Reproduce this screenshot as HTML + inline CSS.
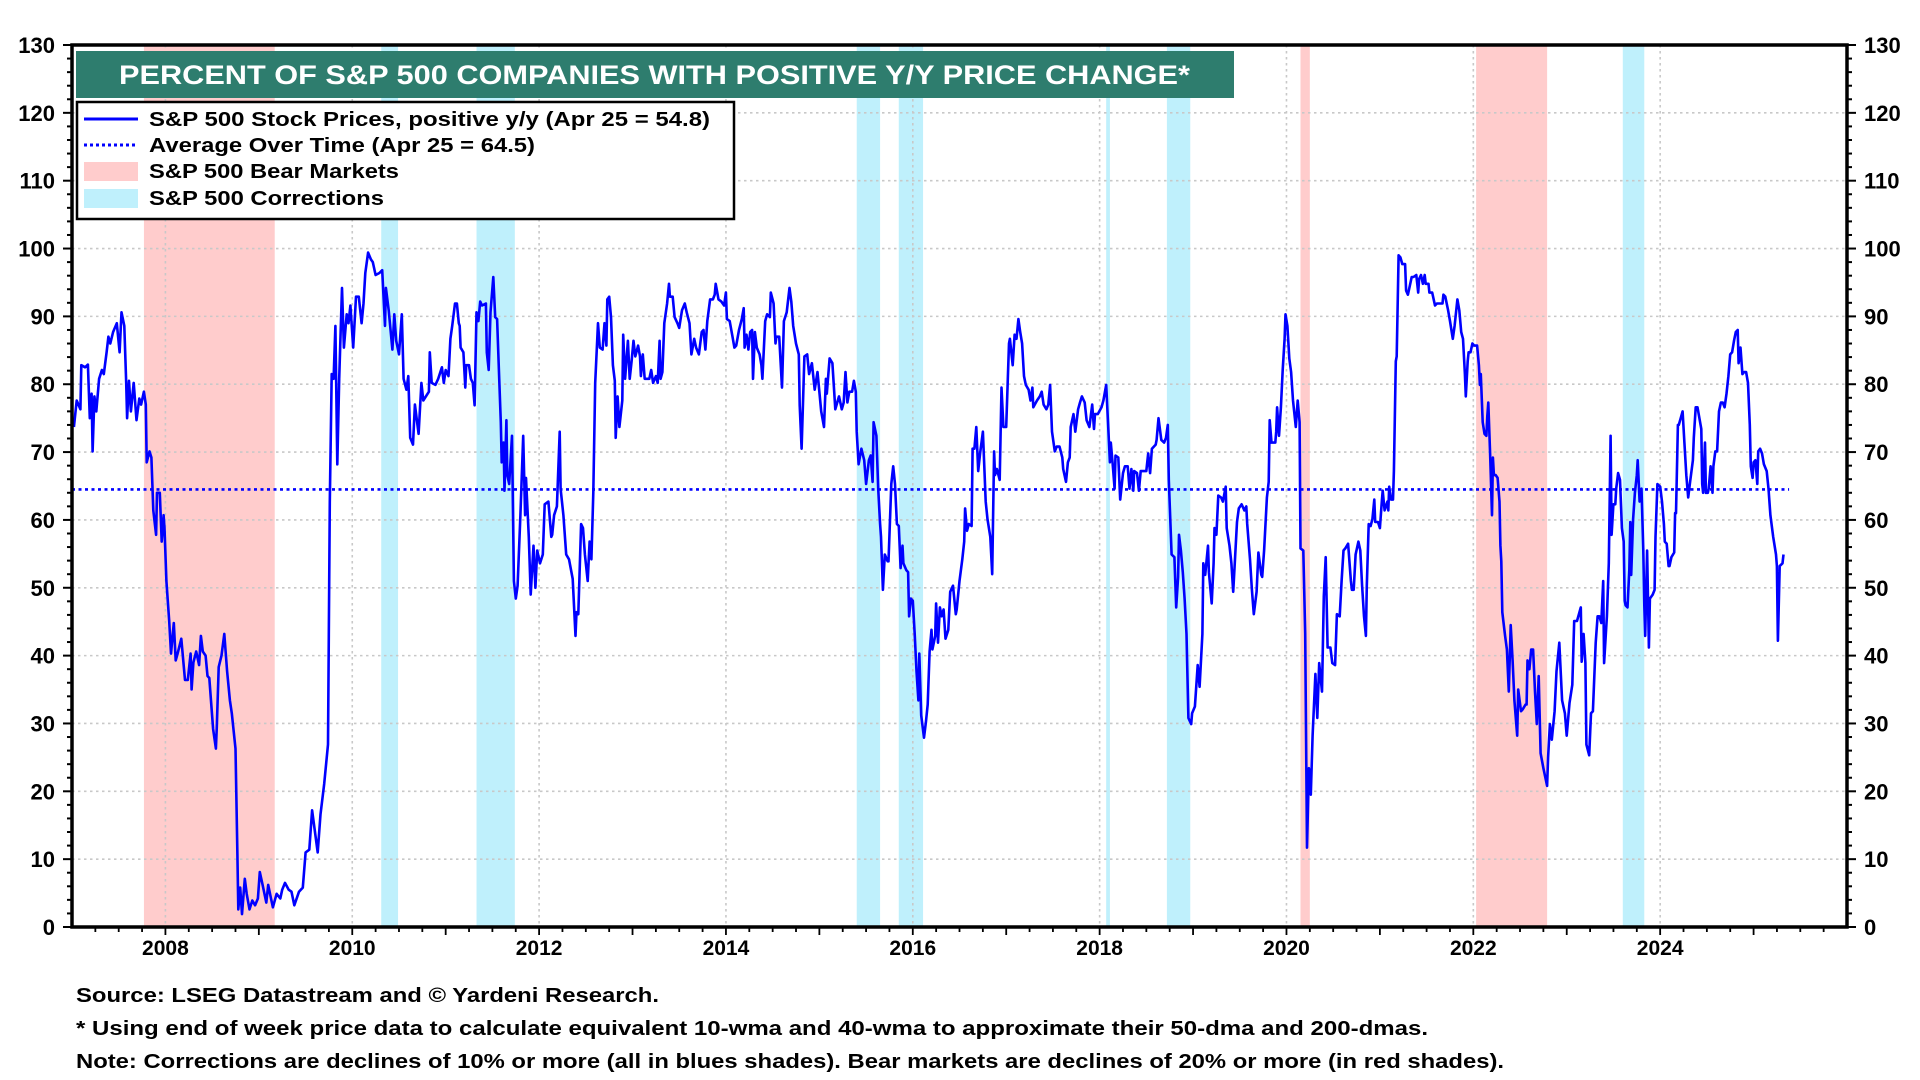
<!DOCTYPE html>
<html><head><meta charset="utf-8"><style>
html,body{margin:0;padding:0;background:#fff;}
svg{display:block;font-family:"Liberation Sans",Arial,sans-serif;font-weight:bold;}
</style></head><body>
<svg id="chart" width="1920" height="1080" viewBox="0 0 1920 1080" xmlns="http://www.w3.org/2000/svg">
<g id="bands"></g>
<g id="grid"></g>
<g id="avg"></g>
<g id="series"></g>
<rect x="72" y="45" width="1775" height="882" fill="none" stroke="#000" stroke-width="3.5"/>
<g id="axes"></g>
<rect x="76" y="51" width="1158" height="47" fill="#2e7d6e"/>
<text x="119" y="84" fill="#fff" font-size="27" textLength="1071" lengthAdjust="spacingAndGlyphs">PERCENT OF S&amp;P 500 COMPANIES WITH POSITIVE Y/Y PRICE CHANGE*</text>
<g>
<rect x="77" y="102" width="657" height="117" fill="#fff" stroke="#000" stroke-width="2.5"/>
<line x1="84" y1="119" x2="138" y2="119" stroke="#0000ff" stroke-width="3"/>
<text x="149" y="126" font-size="20" textLength="561" lengthAdjust="spacingAndGlyphs">S&amp;P 500 Stock Prices, positive y/y (Apr 25 = 54.8)</text>
<line x1="84" y1="145" x2="138" y2="145" stroke="#0000ff" stroke-width="3" stroke-dasharray="3,3"/>
<text x="149" y="152" font-size="20" textLength="386" lengthAdjust="spacingAndGlyphs">Average Over Time (Apr 25 = 64.5)</text>
<rect x="84" y="162" width="54" height="19" fill="#ffcccc"/>
<text x="149" y="178" font-size="20" textLength="250" lengthAdjust="spacingAndGlyphs">S&amp;P 500 Bear Markets</text>
<rect x="84" y="189" width="54" height="19" fill="#bff0fc"/>
<text x="149" y="205" font-size="20" textLength="235" lengthAdjust="spacingAndGlyphs">S&amp;P 500 Corrections</text>
</g>
<text x="76" y="1002" font-size="20" textLength="583" lengthAdjust="spacingAndGlyphs">Source: LSEG Datastream and © Yardeni Research.</text>
<text x="76" y="1035" font-size="20" textLength="1352" lengthAdjust="spacingAndGlyphs">* Using end of week price data to calculate equivalent 10-wma and 40-wma to approximate their 50-dma and 200-dmas.</text>
<text x="76" y="1068" font-size="20" textLength="1428" lengthAdjust="spacingAndGlyphs">Note: Corrections are declines of 10% or more (all in blues shades). Bear markets are declines of 20% or more (in red shades).</text>
</svg>
<script>
const dates = [2007.02,2007.05,2007.09,2007.10,2007.14,2007.17,2007.19,2007.21,2007.22,2007.24,2007.26,2007.29,2007.32,2007.34,2007.37,2007.39,2007.41,2007.44,2007.48,2007.51,2007.53,2007.56,2007.58,2007.59,2007.61,2007.63,2007.66,2007.69,2007.72,2007.74,2007.77,2007.79,2007.80,2007.83,2007.85,2007.87,2007.90,2007.91,2007.94,2007.96,2007.98,2007.99,2008.01,2008.04,2008.06,2008.09,2008.11,2008.13,2008.17,2008.21,2008.24,2008.27,2008.28,2008.30,2008.33,2008.36,2008.38,2008.40,2008.43,2008.45,2008.47,2008.51,2008.54,2008.55,2008.57,2008.60,2008.63,2008.66,2008.69,2008.71,2008.75,2008.77,2008.78,2008.80,2008.82,2008.85,2008.87,2008.90,2008.93,2008.96,2008.99,2009.01,2009.04,2009.08,2009.10,2009.13,2009.15,2009.19,2009.23,2009.25,2009.28,2009.32,2009.35,2009.38,2009.43,2009.47,2009.50,2009.54,2009.57,2009.63,2009.66,2009.70,2009.74,2009.76,2009.78,2009.80,2009.82,2009.84,2009.86,2009.89,2009.91,2009.94,2009.96,2009.98,2010.01,2010.04,2010.07,2010.10,2010.12,2010.14,2010.17,2010.20,2010.22,2010.25,2010.29,2010.32,2010.35,2010.36,2010.39,2010.43,2010.45,2010.47,2010.50,2010.53,2010.55,2010.58,2010.60,2010.62,2010.65,2010.67,2010.71,2010.74,2010.76,2010.82,2010.83,2010.85,2010.89,2010.92,2010.96,2010.98,2011.00,2011.03,2011.05,2011.07,2011.10,2011.12,2011.14,2011.15,2011.16,2011.19,2011.21,2011.22,2011.25,2011.27,2011.29,2011.31,2011.33,2011.35,2011.37,2011.39,2011.43,2011.44,2011.46,2011.48,2011.51,2011.53,2011.55,2011.57,2011.59,2011.60,2011.62,2011.63,2011.65,2011.66,2011.68,2011.71,2011.73,2011.75,2011.77,2011.80,2011.83,2011.85,2011.86,2011.89,2011.91,2011.94,2011.96,2011.98,2012.01,2012.04,2012.06,2012.10,2012.13,2012.14,2012.16,2012.19,2012.22,2012.23,2012.26,2012.29,2012.32,2012.36,2012.39,2012.40,2012.42,2012.45,2012.47,2012.49,2012.52,2012.54,2012.56,2012.58,2012.60,2012.63,2012.65,2012.68,2012.70,2012.72,2012.73,2012.75,2012.77,2012.79,2012.81,2012.82,2012.84,2012.86,2012.89,2012.90,2012.92,2012.95,2012.97,2012.99,2013.01,2013.03,2013.06,2013.08,2013.09,2013.11,2013.13,2013.15,2013.18,2013.20,2013.22,2013.25,2013.27,2013.29,2013.30,2013.32,2013.34,2013.37,2013.39,2013.40,2013.43,2013.45,2013.48,2013.50,2013.53,2013.56,2013.58,2013.61,2013.63,2013.66,2013.68,2013.71,2013.74,2013.76,2013.78,2013.80,2013.83,2013.86,2013.88,2013.89,2013.92,2013.95,2013.98,2014.00,2014.01,2014.04,2014.07,2014.09,2014.11,2014.14,2014.17,2014.19,2014.20,2014.22,2014.24,2014.26,2014.28,2014.29,2014.31,2014.33,2014.36,2014.38,2014.39,2014.42,2014.44,2014.47,2014.48,2014.51,2014.53,2014.54,2014.57,2014.60,2014.62,2014.65,2014.68,2014.70,2014.72,2014.75,2014.78,2014.79,2014.81,2014.84,2014.87,2014.89,2014.92,2014.95,2014.98,2015.02,2015.05,2015.07,2015.08,2015.11,2015.14,2015.17,2015.21,2015.24,2015.26,2015.28,2015.30,2015.32,2015.35,2015.37,2015.39,2015.40,2015.42,2015.45,2015.48,2015.50,2015.53,2015.55,2015.57,2015.58,2015.61,2015.63,2015.65,2015.66,2015.68,2015.70,2015.73,2015.74,2015.77,2015.79,2015.81,2015.83,2015.85,2015.87,2015.89,2015.90,2015.93,2015.95,2015.96,2015.98,2016.00,2016.02,2016.04,2016.06,2016.07,2016.09,2016.12,2016.14,2016.16,2016.18,2016.20,2016.21,2016.24,2016.25,2016.27,2016.29,2016.31,2016.33,2016.35,2016.38,2016.40,2016.43,2016.46,2016.47,2016.50,2016.53,2016.55,2016.56,2016.58,2016.60,2016.63,2016.64,2016.66,2016.68,2016.70,2016.72,2016.75,2016.78,2016.80,2016.83,2016.85,2016.87,2016.88,2016.90,2016.93,2016.95,2016.97,2017.00,2017.03,2017.04,2017.07,2017.09,2017.11,2017.13,2017.15,2017.17,2017.19,2017.21,2017.24,2017.26,2017.28,2017.29,2017.33,2017.36,2017.38,2017.40,2017.43,2017.45,2017.47,2017.49,2017.52,2017.54,2017.57,2017.60,2017.61,2017.64,2017.66,2017.68,2017.69,2017.72,2017.74,2017.77,2017.79,2017.81,2017.84,2017.86,2017.89,2017.92,2017.94,2017.95,2017.98,2018.02,2018.04,2018.07,2018.09,2018.11,2018.12,2018.14,2018.16,2018.17,2018.20,2018.22,2018.25,2018.27,2018.30,2018.32,2018.34,2018.36,2018.37,2018.40,2018.42,2018.44,2018.47,2018.50,2018.52,2018.54,2018.56,2018.60,2018.61,2018.63,2018.66,2018.69,2018.71,2018.73,2018.74,2018.77,2018.80,2018.82,2018.84,2018.85,2018.87,2018.89,2018.91,2018.93,2018.95,2018.98,2018.99,2019.02,2019.05,2019.07,2019.10,2019.11,2019.13,2019.16,2019.17,2019.20,2019.22,2019.23,2019.25,2019.27,2019.30,2019.32,2019.35,2019.36,2019.39,2019.41,2019.43,2019.45,2019.47,2019.49,2019.52,2019.55,2019.57,2019.58,2019.61,2019.63,2019.65,2019.68,2019.70,2019.73,2019.74,2019.76,2019.79,2019.81,2019.82,2019.84,2019.88,2019.89,2019.90,2019.92,2019.94,2019.96,2019.98,2019.99,2020.01,2020.03,2020.05,2020.07,2020.10,2020.12,2020.14,2020.15,2020.18,2020.20,2020.22,2020.24,2020.26,2020.28,2020.31,2020.33,2020.35,2020.38,2020.40,2020.42,2020.44,2020.47,2020.49,2020.52,2020.54,2020.57,2020.59,2020.61,2020.63,2020.66,2020.69,2020.70,2020.72,2020.74,2020.77,2020.79,2020.81,2020.83,2020.85,2020.86,2020.88,2020.90,2020.92,2020.94,2020.95,2020.98,2021.00,2021.02,2021.03,2021.05,2021.08,2021.09,2021.10,2021.12,2021.14,2021.15,2021.17,2021.18,2021.20,2021.22,2021.24,2021.27,2021.28,2021.30,2021.32,2021.34,2021.36,2021.39,2021.41,2021.42,2021.44,2021.46,2021.48,2021.49,2021.52,2021.53,2021.56,2021.59,2021.61,2021.64,2021.67,2021.68,2021.70,2021.73,2021.75,2021.78,2021.80,2021.83,2021.85,2021.87,2021.89,2021.91,2021.92,2021.94,2021.95,2021.97,2021.99,2022.01,2022.04,2022.06,2022.07,2022.08,2022.10,2022.12,2022.14,2022.15,2022.16,2022.18,2022.20,2022.21,2022.22,2022.24,2022.26,2022.28,2022.29,2022.30,2022.31,2022.34,2022.36,2022.38,2022.40,2022.42,2022.44,2022.47,2022.48,2022.51,2022.53,2022.56,2022.57,2022.58,2022.60,2022.62,2022.64,2022.66,2022.68,2022.70,2022.72,2022.75,2022.79,2022.80,2022.82,2022.84,2022.87,2022.89,2022.92,2022.95,2022.98,2023.00,2023.03,2023.06,2023.08,2023.11,2023.13,2023.15,2023.16,2023.18,2023.20,2023.21,2023.24,2023.26,2023.28,2023.31,2023.33,2023.35,2023.37,2023.39,2023.40,2023.43,2023.45,2023.47,2023.48,2023.50,2023.52,2023.53,2023.55,2023.57,2023.59,2023.61,2023.62,2023.63,2023.65,2023.67,2023.68,2023.69,2023.71,2023.73,2023.75,2023.76,2023.78,2023.80,2023.82,2023.83,2023.84,2023.86,2023.88,2023.89,2023.92,2023.94,2023.95,2023.97,2024.00,2024.02,2024.04,2024.05,2024.07,2024.09,2024.10,2024.12,2024.15,2024.16,2024.17,2024.19,2024.20,2024.22,2024.24,2024.26,2024.28,2024.30,2024.32,2024.35,2024.36,2024.38,2024.40,2024.42,2024.44,2024.45,2024.46,2024.48,2024.49,2024.51,2024.52,2024.54,2024.56,2024.57,2024.59,2024.61,2024.63,2024.65,2024.67,2024.69,2024.71,2024.73,2024.75,2024.77,2024.79,2024.81,2024.83,2024.84,2024.86,2024.88,2024.90,2024.92,2024.94,2024.96,2024.97,2024.99,2025.00,2025.02,2025.04,2025.05,2025.07,2025.09,2025.11,2025.14,2025.16,2025.18,2025.21,2025.24,2025.25,2025.26,2025.28,2025.31,2025.32];
const values = [73.7,77.6,76.3,82.8,82.5,82.9,75,78.6,70.1,78.2,76,80.8,82.1,81.5,84.7,87,86,87.7,89,84.7,90.6,88.6,80.2,75,80.5,76,80.2,74.7,77.9,77,78.9,77,68.5,70.1,69.2,61.4,57.8,64,64,56.8,60.7,58.8,51,45.1,40.3,44.8,39.3,40.3,42.5,36.4,36.4,40.3,35,39,40.6,38.6,42.9,40.6,40,37,36.7,29.2,26.3,29.5,38.3,40,43.2,37.7,33.4,31.5,26.3,10.7,2.6,5.8,1.9,7.1,4.9,2.6,3.9,3.2,4.2,8.1,6.2,3.6,6.2,4.2,2.9,4.9,4.2,5.5,6.5,5.5,5.2,3.2,5.2,5.8,11,11.4,17.2,11,16.6,21.1,26.9,62.7,81.5,80.8,88.6,68.2,80.8,94.2,85.4,90.3,89,91.6,85.4,92.9,92.9,89,91.9,96.4,99.4,98.4,98,96.1,96.4,96.8,88.6,94.2,90.9,85.1,90.3,86.4,84.4,90.3,80.8,79.2,81.2,72.1,71.1,77,72.7,80.2,77.6,78.9,84.7,80.2,79.9,80.8,82.5,80.2,82.1,81.2,86.7,88.6,91.9,91.9,89,88.6,85.4,84.7,79.5,82.8,82.8,80.8,80.2,76.9,90.6,89.3,92.2,91.6,91.9,84.7,82.1,90.6,95.8,89.9,89.6,82.1,74.4,68.5,71.4,64.3,74.7,66.6,65.3,72.4,51,48.4,50.3,60.7,72.4,60.7,66.2,57.5,49,56.2,50,55.5,53.6,54.9,62.3,62.7,57.5,57.8,60.7,62,73,64.6,60.7,54.9,54.2,51.3,42.9,46.4,46.1,59.4,58.8,54.9,51,56.8,54.2,64,80.2,89,85.4,85.1,89,85.7,92.5,92.9,89.9,82.8,80.5,72.1,78.2,73.7,77.6,87.3,80.8,86.4,80.8,83.4,86.4,84.1,85.7,84.1,81.2,84.4,80.8,80.8,80.8,82.1,80.2,81.2,80.2,86.4,80.8,81.8,89,91.9,94.8,92.9,92.9,89.9,89,88.3,90.9,91.9,90.6,89,84.4,86.7,85.4,84.4,87.7,88,85.1,89.3,92.5,92.5,93.2,94.8,92.5,92.2,91.6,93.5,89.6,89.3,87,85.4,85.7,88,89.6,91.2,85.4,87.3,85.1,87.7,88,80.8,87.7,85.4,84.4,82.8,80.8,89.3,90.3,89.9,93.5,91.9,86,87,87,79.5,89.3,90.6,94.2,92.2,88.6,86,84.4,76.9,70.5,84.1,84.4,81.5,83.1,79.2,81.8,76,73.7,80.8,78.6,83.8,83.1,76.3,78.2,76.3,77.3,81.8,77.3,78.9,78.9,80.5,78.9,73,68.2,70.5,68.8,65.3,68.8,69.5,65.6,74.4,72.4,64.6,59.4,57.5,49.7,54.9,53.9,53.9,65.3,67.9,65.3,59.4,59.1,52.9,56.2,53.6,52.6,52.3,45.8,48.4,48.1,43.2,37.7,33.4,40.3,31.2,27.9,30.2,32.8,40.6,43.8,40.9,42.9,47.7,41.9,47.1,45.8,46.8,42.5,43.8,49.4,50.3,46.1,46.8,51,54.2,56.8,61.7,58.4,59.4,59.1,70.5,70.5,73.7,67.2,69.8,73,62.7,60.1,57.5,52,70.1,66.6,67.5,65.9,79.5,73.7,73.7,86,86.7,82.8,87.3,86.7,89.6,87.7,86,81.2,79.9,79.2,77.6,79.5,76.6,77.6,78.2,78.9,77,76.3,77,79.9,73,70.1,70.8,70.8,69.2,67.5,65.6,68.5,69.2,73.7,75.6,73,76.3,77.3,78.2,77.3,74.7,73.7,77,73.4,75.6,75.6,76.6,77.6,79.9,74.4,68.5,71.4,68.2,64.6,69.5,69.2,63,66.9,67.9,67.9,64.6,67.5,64.3,67.2,66.9,64.3,67.2,67.2,67.2,69.8,66.9,70.5,71.1,71.8,75,71.8,71.4,72.1,74,65.9,54.9,54.5,47.1,51.6,57.8,55.5,52.3,48.4,43.2,30.8,29.9,31.5,32.5,38.6,35.4,43.2,53.6,51.9,56.2,52.3,47.7,53.6,58.8,57.8,63.6,63.3,62.7,64.9,58.8,56.2,53.6,49.4,54.5,59.7,61.7,62.3,61.4,62,59.4,54.2,49.7,46.1,49.4,55.2,51.9,51.6,55.5,63.3,65.6,74.7,71.4,71.4,73,76.6,72.4,76.6,82.1,86.7,90.3,88.6,83.8,81.8,77.6,73.7,77.6,74.4,55.8,55.5,43.2,11.7,23.4,19.5,28.2,37.3,30.8,38.9,34.7,48.7,54.5,41.2,41.2,38.9,38.6,46.1,45.8,51,55.5,55.8,56.5,51,49.7,49.7,54.9,56.8,55.5,50.3,45.8,42.9,50.3,59.4,59.1,60.1,63,59.7,59.7,58.8,62.7,64.3,61.4,62.7,61.4,64.9,63,63,67.2,83.4,84.1,99,98.7,97.7,97.7,93.8,93.2,94.5,95.8,95.8,96.1,93.5,95.5,96.1,94.8,96.1,94.8,94.8,93.5,93.5,91.6,91.9,91.9,91.9,93.2,92.9,90.9,89.3,86.7,88.6,92.5,90.9,87.7,86.7,81.5,78.2,83.4,84.7,84.7,86,85.7,85.7,82.8,79.9,81.5,74.4,72.7,72.4,75.3,77.3,69.8,60.7,69.2,66.6,66.6,66.2,62.7,56.2,53.9,46.4,42.9,40.9,34.7,44.5,39.3,33.4,28.2,35,31.8,32.1,32.8,32.8,39.3,38,40.9,40.9,34.7,29.9,37,25.6,23.4,20.8,25,29.9,27.6,31.8,37.7,41.9,33.4,31.5,28.2,33,35.7,45.1,45.1,46.1,47.1,39.1,43.2,38.9,26.9,25.3,31.5,31.8,41.9,45.8,45.8,44.8,51,38.9,45.8,53.6,72.4,57.8,62.3,62.3,64.6,66.9,65.9,58.8,56.8,48.1,47.4,47.1,52.6,59.7,51.9,60.1,64,66.6,68.8,62.7,64.6,55.5,47.4,42.9,55.5,41.2,48.4,49,49.7,57.5,65.3,64.9,62.7,59.4,56.8,56.5,53.2,53.2,54.5,55.2,61,61,74,74,75,76,71.4,66.6,63.3,65.6,68.8,72.1,76.6,76.6,75,73.4,65.3,64,71.4,64,64,64.6,67.9,64,67.9,70.1,70.1,76,77.3,77.3,76.6,78.6,81.2,84.4,84.7,86.4,87.7,88,83.1,85.4,81.5,81.8,81.8,80.2,74,67.9,66.2,68.5,68.8,65.3,70.1,70.5,69.8,68.2,67.2,64.6,60.7,57.5,54.9,53.2,42.2,53.2,53.6,54.9];
const averageValue = 64.5;
const averageEnd = 2025.38;
const bearStarts = [2007.77, 2020.15, 2022.03];
const bearEnds = [2009.17, 2020.25, 2022.79];
const corrStarts = [2010.31, 2011.33, 2015.40, 2015.85, 2018.07, 2018.72, 2023.60];
const corrEnds = [2010.49, 2011.74, 2015.65, 2016.11, 2018.11, 2018.97, 2023.83];
const yTicks = [0,10,20,30,40,50,60,70,80,90,100,110,120,130];
const xTickYears = [2008,2010,2012,2014,2016,2018,2020,2022,2024];

const NS = 'http://www.w3.org/2000/svg';
const X0 = 72, X1 = 1847, Y0 = 927, Y1 = 45;
const xMin = 2007, xMax = 2026, yMin = 0, yMax = 130;
function xs(t){ return X0 + (t - xMin) / (xMax - xMin) * (X1 - X0); }
function ys(v){ return Y0 - (v - yMin) / (yMax - yMin) * (Y0 - Y1); }
function mk(tag, attrs, parent){ const e = document.createElementNS(NS, tag); for (const k in attrs) e.setAttribute(k, attrs[k]); parent.appendChild(e); return e; }

const bands = document.getElementById('bands');
bearStarts.forEach((s, i) => {
  const r = mk('rect', {x: xs(s), y: Y1, width: xs(bearEnds[i]) - xs(s), height: Y0 - Y1, fill: '#ffcccc'}, bands);
  
  
});
corrStarts.forEach((s, i) => {
  const r = mk('rect', {x: xs(s), y: Y1, width: Math.max(2, xs(corrEnds[i]) - xs(s)), height: Y0 - Y1, fill: '#bff0fc'}, bands);
  
  
});

const grid = document.getElementById('grid');
yTicks.forEach(v => {
  if (v === yMin || v === yMax) return;
  const l = mk('line', {x1: X0, x2: X1, y1: ys(v), y2: ys(v), stroke: '#c8c8c8', 'stroke-width': 1.6, 'stroke-dasharray': '2.5,3.5'}, grid);
  
  
});
xTickYears.forEach(t => {
  const l = mk('line', {x1: xs(t), x2: xs(t), y1: Y1, y2: Y0, stroke: '#c8c8c8', 'stroke-width': 1.6, 'stroke-dasharray': '2.5,3.5'}, grid);
  
  
});

const avg = document.getElementById('avg');
const al = mk('line', {x1: X0, x2: xs(averageEnd), y1: ys(averageValue), y2: ys(averageValue), stroke: '#0000ff', 'stroke-width': 2.6, 'stroke-dasharray': '3,3.5'}, avg);



const series = document.getElementById('series');
let d = '';
dates.forEach((t, i) => { d += (i ? 'L' : 'M') + xs(t).toFixed(1) + ',' + ys(values[i]).toFixed(1); });
const p = mk('path', {d: d, fill: 'none', stroke: '#0000ff', 'stroke-width': 2.6, 'stroke-linejoin': 'round'}, series);



const axes = document.getElementById('axes');
for (let v = yMin; v <= yMax; v += 2) {
  const major = v % 10 === 0;
  const len = major ? 9 : 5;
  const lt = mk('line', {x1: X0 - len, x2: X0, y1: ys(v), y2: ys(v), stroke: '#000', 'stroke-width': 2}, axes);
  
  
  const rt = mk('line', {x1: X1, x2: X1 + len, y1: ys(v), y2: ys(v), stroke: '#000', 'stroke-width': 2}, axes);
  
  
}
yTicks.forEach(v => {
  const tl = mk('text', {x: 55, y: ys(v) + 8, 'text-anchor': 'end', 'font-size': 22}, axes);
  tl.textContent = v;
  
  
  const tr = mk('text', {x: 1864, y: ys(v) + 8, 'text-anchor': 'start', 'font-size': 22}, axes);
  tr.textContent = v;
  
  
});
for (let q = xMin * 4 + 1; q < xMax * 4; q++) {
  const t = q / 4;
  const major = q % 4 === 0;
  const bt = mk('line', {x1: xs(t), x2: xs(t), y1: Y0, y2: Y0 + (major ? 8 : 5), stroke: '#000', 'stroke-width': 1.8}, axes);
  
  
}
xTickYears.forEach(t => {
  const xl = mk('text', {x: xs(t), y: 955, 'text-anchor': 'middle', 'font-size': 21}, axes);
  xl.textContent = t;
  
  
});
</script>
</body></html>
